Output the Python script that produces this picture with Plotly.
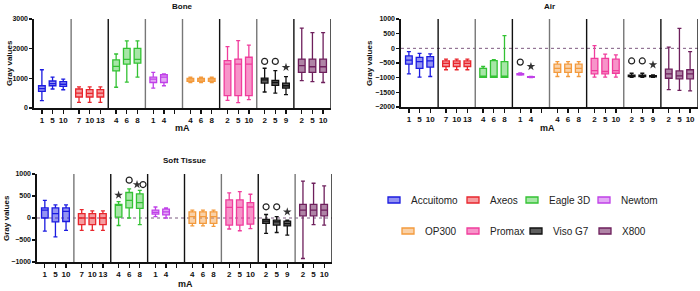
import plotly.graph_objects as go

# ---------------- data ----------------
devices = ["Accuitomo", "Axeos", "Eagle 3D", "Newtom", "OP300", "Promax", "Viso G7", "X800"]
ma_labels = [["1", "5", "10"], ["7", "10", "13"], ["4", "6", "8"], ["1", "4", ""],
             ["4", "6", "8"], ["2", "5", "10"], ["2", "5", "9"], ["2", "5", "10"]]

# each list: 24 slots (8 devices x 3 mA levels); None = no box (Newtom has only 2)
bone_lower = [250, 640, 615, 190, 190, 190, 700, 870, 1040, 670, 750, None,
              860, 860, 860, 260, 180, 280, 540, 500, 450, 920, 890, 860]
bone_q1 = [560, 750, 730, 370, 370, 370, 1250, 1480, 1510, 860, 860, None,
           900, 900, 900, 420, 420, 420, 840, 760, 670, 1200, 1200, 1200]
bone_median = [650, 820, 800, 500, 490, 500, 1400, 1640, 1640, 970, 1040, None,
               950, 950, 950, 1480, 1480, 1480, 950, 860, 750, 1430, 1390, 1390]
bone_q3 = [750, 910, 890, 640, 620, 620, 1620, 2010, 2010, 1040, 1120, None,
           1000, 1000, 1000, 1600, 1650, 1710, 1010, 930, 840, 1650, 1650, 1650]
bone_upper = [1290, 1040, 970, 710, 710, 710, 1820, 2260, 2260, 1200, 1150, None,
              1040, 1040, 1040, 2070, 2270, 2120, 1340, 1260, 1060, 2690, 2540, 2540]

air_lower = [-870, -980, -960, -730, -730, -730, -980, -980, -980, -910, -995, None,
             -960, -960, -960, -980, -980, -980, -985, -985, -985, -1410, -1430, -1450]
air_q1 = [-540, -680, -640, -620, -620, -620, -985, -985, -985, -900, -990, None,
          -820, -820, -820, -870, -870, -850, -960, -960, -970, -1020, -1040, -1040]
air_median = [-400, -450, -430, -510, -510, -510, -980, -980, -980, -880, -980, None,
              -680, -680, -680, -760, -790, -760, -930, -930, -950, -870, -940, -870]
air_q3 = [-260, -310, -280, -430, -430, -430, -680, -420, -450, -860, -965, None,
          -540, -540, -540, -340, -340, -370, -910, -910, -935, -710, -770, -730]
air_upper = [-110, -170, -190, -370, -370, -370, -620, -390, 430, -840, -960, None,
             -450, -450, -450, 90, -200, -220, -850, -850, -905, 40, 680, -110]

soft_lower = [-300, -430, -280, -280, -280, -280, -170, 0, -150, 30, 0, None,
              -180, -180, -190, -250, -290, -240, -350, -330, -390, -920, -150, -160]
soft_q1 = [0, -90, -80, -150, -150, -150, 20, 230, 220, 90, 70, None,
           -120, -120, -120, -160, -160, -140, -120, -160, -180, 50, 50, 50]
soft_median = [180, 100, 150, 0, 0, 0, 290, 400, 350, 130, 140, None,
               30, 30, 30, 240, 240, 250, -70, -90, -130, 180, 180, 180]
soft_q3 = [230, 230, 230, 100, 100, 100, 310, 580, 550, 180, 200, None,
           140, 140, 140, 410, 410, 350, -30, -50, -70, 310, 310, 310]
soft_upper = [400, 300, 300, 190, 160, 160, 370, 660, 630, 250, 230, None,
              180, 180, 180, 570, 600, 540, 80, 30, -50, 840, 790, 730]

# outlier / significance markers: (device index, slot, value)
bone_circles = [(6, 0, 1570), (6, 1, 1570)]
bone_stars = [(6, 2, 1370)]
air_circles = [(3, 0, -470), (6, 0, -430), (6, 1, -430)]
air_stars = [(3, 1, -620), (6, 2, -560)]
soft_circles = [(2, 1, 860), (2, 2, 760), (6, 0, 255), (6, 1, 255)]
soft_stars = [(2, 0, 520), (2, 2, 760), (6, 2, 140)]

# ---------------- style ----------------
colors = ["#1b1be0", "#e8262c", "#33c233", "#c040e8", "#f39a3c", "#f03c9c", "#111111", "#6e1f5c"]
fills = ["rgba(40,40,230,0.5)", "rgba(232,38,44,0.45)", "rgba(60,200,60,0.45)",
         "rgba(192,64,232,0.45)", "rgba(243,154,60,0.45)", "rgba(240,60,156,0.55)",
         "rgba(40,40,40,0.75)", "rgba(110,31,92,0.55)"]
FONT = "Liberation Sans, Arial, sans-serif"
W, H = 700, 291

# manual legend layout (pixels): icon left x, row y
legend_icon_x = [388, 467, 526, 598, 402, 467, 530, 599]
legend_row_y = [200, 200, 200, 200, 231, 231, 231, 231]


def xdom(a, b):
    return [a / W, b / W]


def ydom(top, bottom):
    return [1 - bottom / H, 1 - top / H]


def slot_x(g, k):
    return 4 * g + 0.85 + 1.15 * k


panels = [
    dict(name="Bone", xa="x", ya="y", xd=(34, 331), yd=(19, 108), yr=[0, 3000],
         yt=[0, 1000, 2000, 3000], zero=False,
         data=(bone_lower, bone_q1, bone_median, bone_q3, bone_upper),
         circles=bone_circles, stars=bone_stars,
         sep=["#777", "#111", "#777", "#777", "#111", "#777", "#111", "#111"],
         title_xy=(182, 6), ylab_xy=(9, 63), ma_xy=(182, 128)),
    dict(name="Air", xa="x2", ya="y2", xd=(401, 698), yd=(19, 107), yr=[-2000, 1000],
         yt=[-2000, -1500, -1000, -500, 0, 500, 1000], zero=True,
         data=(air_lower, air_q1, air_median, air_q3, air_upper),
         circles=air_circles, stars=air_stars,
         sep=["#111", "#777", "#111", "#777", "#111", "#777", "#111", "#111"],
         title_xy=(549, 6), ylab_xy=(369, 63), ma_xy=(547, 128)),
    dict(name="Soft Tissue", xa="x3", ya="y3", xd=(37, 332), yd=(174, 262), yr=[-1000, 1000],
         yt=[-1000, -500, 0, 500, 1000], zero=True,
         data=(soft_lower, soft_q1, soft_median, soft_q3, soft_upper),
         circles=soft_circles, stars=soft_stars,
         sep=["#777", "#111", "#111", "#111", "#777", "#111", "#777", "#111"],
         title_xy=(185, 160), ylab_xy=(6, 218), ma_xy=(185, 284)),
]

fig = go.Figure()
shapes = []
annotations = []
layout_axes = {}

for pi, p in enumerate(panels):
    lo, q1, md, q3, up = p["data"]
    for g, dev in enumerate(devices):
        xs, a, b, c, d, e = [], [], [], [], [], []
        for k in range(3):
            i = 3 * g + k
            if md[i] is None:
                continue
            xs.append(slot_x(g, k))
            a.append(lo[i]); b.append(q1[i]); c.append(md[i]); d.append(q3[i]); e.append(up[i])
        fig.add_trace(go.Box(
            x=xs, lowerfence=a, q1=b, median=c, q3=d, upperfence=e,
            name=dev, xaxis=p["xa"], yaxis=p["ya"],
            line=dict(color=colors[g], width=1.3), fillcolor=fills[g],
            width=0.72, whiskerwidth=0.6, boxpoints=False,
            showlegend=False, hoverinfo="skip"))
    # markers
    cx = [slot_x(g, k) + (0.35 if (g == 2 and k == 2) else 0) for g, k, v in p["circles"]]
    cy = [v for g, k, v in p["circles"]]
    sx = [slot_x(g, k) - (0.3 if (g == 2 and k == 2) else 0) for g, k, v in p["stars"]]
    sy = [v for g, k, v in p["stars"]]
    fig.add_trace(go.Scatter(x=cx, y=cy, mode="markers", xaxis=p["xa"], yaxis=p["ya"],
                             marker=dict(symbol="circle-open", size=6, color="#222",
                                         line=dict(width=1.2, color="#222")),
                             showlegend=False, hoverinfo="skip"))
    fig.add_trace(go.Scatter(x=sx, y=sy, mode="markers", xaxis=p["xa"], yaxis=p["ya"],
                             marker=dict(symbol="star", size=6.5, color="#333",
                                         line=dict(width=0)),
                             showlegend=False, hoverinfo="skip"))

    # axes
    tickvals, ticktext = [], []
    for g in range(8):
        for k in range(3):
            tickvals.append(slot_x(g, k))
            ticktext.append(ma_labels[g][k])
    xname = "xaxis" + p["xa"][1:]
    yname = "yaxis" + p["ya"][1:]
    layout_axes[xname] = dict(
        domain=xdom(*p["xd"]), anchor=p["ya"], range=[0, 32], showgrid=False, zeroline=False,
        showline=True, linecolor="#111", linewidth=1.6, ticks="outside", ticklen=4,
        tickwidth=1.3, tickcolor="#111", tickvals=tickvals, ticktext=ticktext, tickangle=0,
        automargin=False,
        tickfont=dict(family=FONT, size=8, color="#111", weight="bold"), fixedrange=True)
    layout_axes[yname] = dict(
        domain=ydom(*p["yd"]), anchor=p["xa"], range=p["yr"], showgrid=False, zeroline=False,
        showline=True, linecolor="#111", linewidth=1.6, ticks="outside", ticklen=3,
        tickwidth=1.3, tickcolor="#111", tickvals=p["yt"], automargin=False,
        tickfont=dict(family=FONT, size=7, color="#111", weight="bold"), fixedrange=True)

    # group separators + right edge
    for g in range(1, 9):
        shapes.append(dict(type="line", xref=p["xa"], yref=p["ya"] + " domain",
                           x0=4 * g, x1=4 * g, y0=0, y1=1,
                           line=dict(color=p["sep"][g - 1], width=1.4)))
    if p["zero"]:
        shapes.append(dict(type="line", xref=p["xa"] + " domain", yref=p["ya"],
                           x0=0, x1=1, y0=0, y1=0,
                           line=dict(color="#7d5a80", width=1, dash="dot"), layer="below"))

    tx, ty = p["title_xy"]
    annotations.append(dict(text="<b>%s</b>" % p["name"], x=tx / W, y=1 - ty / H, xref="paper",
                            yref="paper", showarrow=False, xanchor="center", yanchor="middle",
                            font=dict(family=FONT, size=8, color="#111")))
    lx, ly = p["ylab_xy"]
    annotations.append(dict(text="<b>Gray values</b>", x=lx / W, y=1 - ly / H, xref="paper",
                            yref="paper", showarrow=False, textangle=-90, xanchor="center",
                            yanchor="middle", font=dict(family=FONT, size=8, color="#111")))
    mx, my = p["ma_xy"]
    annotations.append(dict(text="<b>mA</b>", x=mx / W, y=1 - my / H, xref="paper",
                            yref="paper", showarrow=False, xanchor="center", yanchor="middle",
                            font=dict(family=FONT, size=9, color="#111")))

# manual legend
for g, dev in enumerate(devices):
    x0 = legend_icon_x[g]
    yc = legend_row_y[g]
    shapes.append(dict(type="rect", xref="paper", yref="paper",
                       x0=x0 / W, x1=(x0 + 12) / W, y0=1 - (yc + 3) / H, y1=1 - (yc - 3) / H,
                       line=dict(color=colors[g], width=1.3), fillcolor=fills[g]))
    annotations.append(dict(text=dev, x=(x0 + 21) / W, y=1 - yc / H, xref="paper", yref="paper",
                            showarrow=False, xanchor="left", yanchor="middle",
                            font=dict(family=FONT, size=10, color="#222")))

fig.update_layout(
    width=W, height=H, margin=dict(l=0, r=0, t=0, b=0),
    paper_bgcolor="white", plot_bgcolor="white", showlegend=False, hovermode=False,
    shapes=shapes, annotations=annotations, **layout_axes)

fig.write_html("out.html", config={"displayModeBar": False, "staticPlot": True},
               post_script="document.body.style.margin='0';document.body.style.padding='0';"
                           "document.body.style.overflow='hidden';")
